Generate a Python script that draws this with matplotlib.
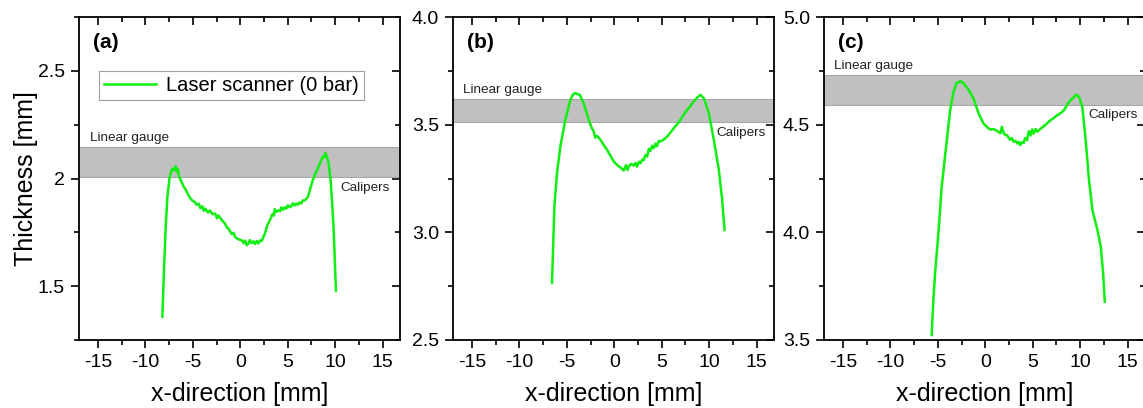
import matplotlib.pyplot as plt
from matplotlib.ticker import MultipleLocator, FixedLocator

plt.rcParams['font.family'] = ['Liberation Sans', 'DejaVu Sans']
plt.rcParams['axes.unicode_minus'] = False

# panel (a)
xa = [-8.21, -8.03, -7.86, -7.68, -7.44, -7.16, -6.95, -6.81, -6.66, -6.55, -6.46, -6.2, -5.94, -5.75, -5.6, -5.4, -5.24,
      -5.0, -4.8, -4.6, -4.37, -4.2, -4.0, -3.85, -3.68, -3.4, -3.2, -2.9, -2.63, -2.45, -2.3, -1.93, -1.75, -1.6, -1.4, -1.24,
      -0.9, -0.7, -0.54, -0.2, 0.16, 0.35, 0.5, 0.7, 0.85, 1.0, 1.2, 1.4, 1.55, 1.75, 1.9, 2.1, 2.25, 2.6, 2.85, 3.12, 3.4,
      3.55, 3.64, 3.8, 4.0, 4.2, 4.34, 4.5, 4.7, 4.85, 5.03, 5.2, 5.4, 5.55, 5.73, 5.9, 6.1, 6.25,
      6.43, 6.6, 6.8, 7.13, 7.4, 7.65, 7.9, 8.17, 8.45, 8.69, 8.85, 8.97, 9.15, 9.32, 9.56, 9.84, 10.09]
ya = [1.358, 1.588, 1.775, 1.914, 2.008, 2.046, 2.038, 2.057, 2.030, 2.042, 2.010, 1.985, 1.961, 1.948, 1.935, 1.918, 1.907,
      1.895, 1.892, 1.878, 1.883, 1.862, 1.871, 1.850, 1.860, 1.842, 1.852, 1.834, 1.837, 1.815, 1.828, 1.806, 1.798, 1.790, 1.772, 1.767,
      1.742, 1.748, 1.728, 1.718, 1.713, 1.700, 1.712, 1.690, 1.697, 1.714, 1.700, 1.708, 1.696, 1.710, 1.698, 1.712, 1.709, 1.744, 1.782, 1.806, 1.835,
      1.828, 1.858, 1.845, 1.852, 1.848, 1.866, 1.855, 1.866, 1.860, 1.876, 1.866, 1.872, 1.885, 1.875, 1.884, 1.878, 1.889,
      1.884, 1.898, 1.898, 1.914, 1.955, 1.992, 2.020, 2.046, 2.075, 2.101, 2.098, 2.119, 2.100, 2.070, 1.977, 1.775, 1.479]

# panel (b)
xb = [-6.56, -6.45, -6.31, -6.03, -5.68, -5.15, -4.62, -4.35, -4.10, -3.85, -3.64, -3.22, -2.95, -2.69, -2.4, -2.16, -2.0,
      -1.8, -1.46, -1.1, -0.75, -0.4, -0.05, 0.2, 0.48, 0.75, 1.0, 1.25, 1.4, 1.53, 1.8, 2.06, 2.25, 2.4, 2.6, 2.76, 2.95, 3.1,
      3.3, 3.47, 3.65, 3.8, 4.0, 4.17, 4.35, 4.5, 4.7, 4.87, 5.2, 5.58, 5.9, 6.28, 6.6, 6.98, 7.3, 7.69, 8.0, 8.39, 8.8, 9.09,
      9.45, 9.97, 10.5, 11.03, 11.38, 11.63]
yb = [2.766, 2.918, 3.120, 3.275, 3.399, 3.523, 3.616, 3.640, 3.647, 3.641, 3.639, 3.600, 3.560, 3.523, 3.488, 3.468, 3.440,
      3.448, 3.430, 3.405, 3.383, 3.356, 3.329, 3.318, 3.306, 3.298, 3.287, 3.312, 3.290, 3.306, 3.318, 3.310, 3.322, 3.305, 3.328, 3.321, 3.338, 3.335,
      3.360, 3.352, 3.388, 3.378, 3.402, 3.391, 3.412, 3.400, 3.425, 3.422, 3.430, 3.445, 3.462, 3.484, 3.500, 3.523, 3.545, 3.569, 3.585, 3.608, 3.628, 3.639,
      3.623, 3.554, 3.430, 3.290, 3.151, 3.011]

# panel (c)
xc = [-5.65, -5.47, -5.29, -4.94, -4.59, -4.13, -3.70, -3.35, -3.05, -2.82, -2.55, -2.29, -1.76, -1.23,
      -0.70, -0.18, 0.2, 0.53, 0.9, 1.24, 1.6, 1.75, 1.94, 2.1, 2.30, 2.6, 2.8, 3.0, 3.2, 3.4, 3.55, 3.71, 3.85, 4.05, 4.2, 4.41, 4.6,
      4.77, 4.95, 5.1, 5.3, 5.47, 5.8, 6.18, 6.5, 6.88, 7.2, 7.59, 8.0, 8.30, 8.83, 9.36, 9.6, 9.89, 10.24, 10.59, 10.94, 11.30, 11.83,
      12.18, 12.43, 12.60]
yc = [3.523, 3.686, 3.809, 3.995, 4.211, 4.397, 4.567, 4.652, 4.690, 4.698, 4.702, 4.691, 4.663, 4.621,
      4.552, 4.505, 4.488, 4.477, 4.480, 4.471, 4.460, 4.490, 4.462, 4.452, 4.451, 4.430, 4.438, 4.420, 4.425, 4.412, 4.420, 4.405, 4.418, 4.415, 4.438, 4.428, 4.470,
      4.450, 4.478, 4.458, 4.480, 4.467, 4.480, 4.493, 4.505, 4.521, 4.530, 4.544, 4.555, 4.567, 4.606, 4.629, 4.640, 4.629, 4.582, 4.428, 4.242, 4.103, 4.010,
      3.933, 3.809, 3.678]

curves = [(xa, ya), (xb, yb), (xc, yc)]
labels = ["(a)", "(b)", "(c)"]
ylims = [(1.25, 2.75), (2.5, 4.0), (3.5, 5.0)]
yticks = [[1.5, 2.0, 2.5], [2.5, 3.0, 3.5, 4.0], [3.5, 4.0, 4.5, 5.0]]
yticklabels = [["1.5", "2", "2.5"], ["2.5", "3.0", "3.5", "4.0"], ["3.5", "4.0", "4.5", "5.0"]]
bands = [(2.008, 2.144), (3.514, 3.618), (4.593, 4.731)]
gauge_pos = [(-15.8, 2.188), (-15.9, 3.661), (-15.9, 4.773)]
caliper_pos = [(10.6, 1.955), (10.8, 3.46), (10.9, 4.546)]
xticks = [-15, -10, -5, 0, 5, 10, 15]

fig = plt.figure(figsize=(11.43, 4.08), dpi=100)
lefts = [0.0691, 0.3963, 0.7209]

for i in range(3):
    ax = fig.add_axes([lefts[i], 0.1667, 0.2805, 0.7916])
    x, y = curves[i]
    ax.axhspan(bands[i][0], bands[i][1], facecolor='#c0c0c0', edgecolor='#a8a8a8', lw=0.8, zorder=1)
    ax.plot(x, y, color='#11ee11', lw=1.8, zorder=3, label="Laser scanner (0 bar)")
    ax.text(gauge_pos[i][0], gauge_pos[i][1], "Linear gauge", fontsize=9.7, va='center', ha='left', color='#222222')
    ax.text(caliper_pos[i][0], caliper_pos[i][1], "Calipers", fontsize=9.7, va='center', ha='left', color='#222222')
    ax.text(0.045, 0.92, labels[i], transform=ax.transAxes, fontsize=15, fontweight='bold', va='center')

    ax.set_xlim(-17, 16.8)
    ax.set_ylim(*ylims[i])
    ax.xaxis.set_major_locator(FixedLocator(xticks))
    ax.xaxis.set_minor_locator(MultipleLocator(2.5))
    ax.yaxis.set_major_locator(FixedLocator(yticks[i]))
    ax.set_yticklabels(yticklabels[i])
    ax.yaxis.set_minor_locator(MultipleLocator(0.25))
    ax.tick_params(which='both', direction='out', top=False, right=False, labelsize=14, width=1.2)
    ax.tick_params(which='major', length=6, pad=4)
    ax.tick_params(which='minor', length=3.5)
    sec_x = ax.secondary_xaxis('top')
    sec_x.xaxis.set_major_locator(FixedLocator(xticks))
    sec_x.xaxis.set_minor_locator(MultipleLocator(2.5))
    sec_x.tick_params(which='both', direction='in', labeltop=False, width=1.2)
    sec_x.tick_params(which='major', length=6)
    sec_x.tick_params(which='minor', length=3.5)
    sec_x.spines['top'].set_visible(False)
    sec_y = ax.secondary_yaxis('right')
    sec_y.yaxis.set_major_locator(FixedLocator(yticks[i]))
    sec_y.yaxis.set_minor_locator(MultipleLocator(0.25))
    sec_y.tick_params(which='both', direction='in', labelright=False, width=1.2)
    sec_y.tick_params(which='major', length=6)
    sec_y.tick_params(which='minor', length=3.5)
    sec_y.spines['right'].set_visible(False)
    for s in ax.spines.values():
        s.set_linewidth(1.3)
    ax.set_xlabel("x-direction [mm]", fontsize=18, labelpad=8)
    if i == 0:
        ax.set_ylabel("Thickness [mm]", fontsize=18, labelpad=0)
        leg = ax.legend(loc='upper left', bbox_to_anchor=(0.062, 0.833), fontsize=14.5,
                        handlelength=2.6, fancybox=False, edgecolor='#888888',
                        borderpad=0.25, handletextpad=0.5, borderaxespad=0)
        leg.get_frame().set_linewidth(0.8)

fig.savefig("out.png", dpi=100)
